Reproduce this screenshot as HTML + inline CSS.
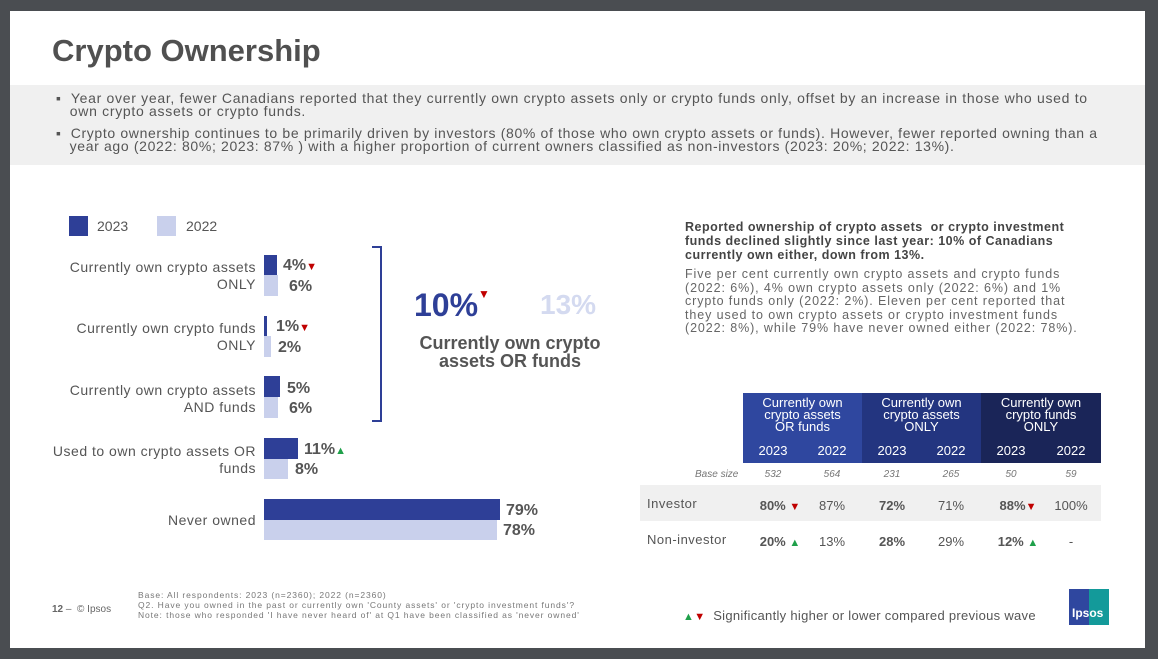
<!DOCTYPE html>
<html><head><meta charset="utf-8"><style>
*{margin:0;padding:0;box-sizing:border-box}
body{width:1158px;height:659px;background:#4a4d51;position:relative;overflow:hidden;font-family:"Liberation Sans",sans-serif;color:#555}
.slide{position:absolute;left:10px;top:11px;width:1135px;height:637px;background:#fff}
.a{position:absolute;white-space:nowrap}
.d{background:#2e3f97;position:absolute}
.l{background:#c9d0ec;position:absolute}
.lab{position:absolute;text-align:right;font-size:14px;color:#555;line-height:17px;letter-spacing:0.5px}
.v{position:absolute;font-size:16px;font-weight:bold;color:#555}
.dn{color:#c00000;font-size:11px}
.up{color:#1fa04a;font-size:11px}
.th{position:absolute;color:#fff;font-size:13px;text-align:center;line-height:12px}
.td{position:absolute;font-size:13px;color:#555;text-align:center;width:60px}
</style></head><body>
<div class="slide"></div>
<div class="a" style="left:52px;top:33px;font-size:31px;font-weight:bold;color:#505050">Crypto Ownership</div>
<div style="position:absolute;left:10px;top:85px;width:1135px;height:80px;background:#f0f0f0"></div>
<div class="a" style="left:56px;top:92px;font-size:14px;line-height:13px;color:#555;letter-spacing:0.7px">▪&nbsp;&nbsp;Year over year, fewer Canadians reported that they currently own crypto assets only or crypto funds only, offset by an increase in those who used to<br>&nbsp;&nbsp;&nbsp;own crypto assets or crypto funds.</div>
<div class="a" style="left:56px;top:127px;font-size:14px;line-height:13px;color:#555;letter-spacing:0.65px">▪&nbsp;&nbsp;Crypto ownership continues to be primarily driven by investors (80% of those who own crypto assets or funds). However, fewer reported owning than a<br>&nbsp;&nbsp;&nbsp;year ago (2022: 80%; 2023: 87% ) with a higher proportion of current owners classified as non-investors (2023: 20%; 2022: 13%).</div>

<div class="d" style="left:69px;top:216px;width:19px;height:20px"></div>
<div class="a" style="left:97px;top:218px;font-size:14px">2023</div>
<div class="l" style="left:157px;top:216px;width:19px;height:20px"></div>
<div class="a" style="left:186px;top:218px;font-size:14px">2022</div>

<div class="lab" style="top:259px;left:0;width:256px">Currently own crypto assets<br>ONLY</div>
<div class="lab" style="top:320px;left:0;width:256px">Currently own crypto funds<br>ONLY</div>
<div class="lab" style="top:382px;left:0;width:256px">Currently own crypto assets<br>AND funds</div>
<div class="lab" style="top:443px;left:0;width:256px">Used to own crypto assets OR<br>funds</div>
<div class="lab" style="top:512px;left:0;width:256px">Never owned</div>

<div class="d" style="left:264px;top:255px;width:13px;height:20px"></div>
<div class="l" style="left:264px;top:275px;width:14px;height:21px"></div>
<div class="v" style="left:283px;top:257px">4%<span class="dn">▼</span></div>
<div class="v" style="left:289px;top:278px">6%</div>

<div class="d" style="left:264px;top:316px;width:3px;height:20px"></div>
<div class="l" style="left:264px;top:336px;width:7px;height:21px"></div>
<div class="v" style="left:276px;top:318px">1%<span class="dn">▼</span></div>
<div class="v" style="left:278px;top:339px">2%</div>

<div class="d" style="left:264px;top:376px;width:16px;height:21px"></div>
<div class="l" style="left:264px;top:397px;width:14px;height:21px"></div>
<div class="v" style="left:287px;top:380px">5%</div>
<div class="v" style="left:289px;top:400px">6%</div>

<div class="d" style="left:264px;top:438px;width:34px;height:21px"></div>
<div class="l" style="left:264px;top:459px;width:24px;height:20px"></div>
<div class="v" style="left:304px;top:441px">11%<span class="up">▲</span></div>
<div class="v" style="left:295px;top:461px">8%</div>

<div class="d" style="left:264px;top:499px;width:236px;height:21px"></div>
<div class="l" style="left:264px;top:520px;width:233px;height:20px"></div>
<div class="v" style="left:506px;top:502px">79%</div>
<div class="v" style="left:503px;top:522px">78%</div>

<div style="position:absolute;left:372px;top:246px;width:10px;height:176px;border:2.5px solid #2e3f97;border-left:none"></div>
<div class="a" style="left:414px;top:287px;font-size:32px;font-weight:bold;color:#2e3f97">10%<span style="color:#c00000;font-size:12px;vertical-align:top">▼</span></div>
<div class="a" style="left:540px;top:289px;font-size:28px;font-weight:bold;color:#d4daf0">13%</div>
<div class="a" style="left:400px;top:334px;width:220px;text-align:center;font-size:18px;font-weight:bold;line-height:18px;color:#555">Currently own crypto<br>assets OR funds</div>

<div class="a" style="left:685px;top:220px;font-size:12.5px;font-weight:bold;line-height:14px;color:#444;letter-spacing:0.5px">Reported ownership of crypto assets&nbsp; or crypto investment<br>funds declined slightly since last year: 10% of Canadians<br>currently own either, down from 13%.</div>
<div class="a" style="left:685px;top:268px;font-size:12.5px;line-height:13.5px;color:#666;letter-spacing:0.9px">Five per cent currently own crypto assets and crypto funds<br>(2022: 6%), 4% own crypto assets only (2022: 6%) and 1%<br>crypto funds only (2022: 2%). Eleven per cent reported that<br>they used to own crypto assets or crypto investment funds<br>(2022: 8%), while 79% have never owned either (2022: 78%).</div>

<div style="position:absolute;left:743px;top:393px;width:119px;height:70px;background:#2f479f"></div>
<div style="position:absolute;left:862px;top:393px;width:119px;height:70px;background:#233580"></div>
<div style="position:absolute;left:981px;top:393px;width:120px;height:70px;background:#1a2558"></div>
<div class="th" style="left:743px;top:397px;width:119px">Currently own<br>crypto assets<br>OR funds</div>
<div class="th" style="left:862px;top:397px;width:119px">Currently own<br>crypto assets<br>ONLY</div>
<div class="th" style="left:981px;top:397px;width:120px">Currently own<br>crypto funds<br>ONLY</div>
<div class="th" style="left:743px;top:445px;width:60px">2023</div>
<div class="th" style="left:802px;top:445px;width:60px">2022</div>
<div class="th" style="left:862px;top:445px;width:60px">2023</div>
<div class="th" style="left:921px;top:445px;width:60px">2022</div>
<div class="th" style="left:981px;top:445px;width:60px">2023</div>
<div class="th" style="left:1041px;top:445px;width:60px">2022</div>

<div class="a" style="left:695px;top:469px;font-size:10px;font-style:italic;color:#777">Base size</div>
<div class="td" style="left:743px;top:469px;font-size:10px;font-style:italic;color:#777">532</div>
<div class="td" style="left:802px;top:469px;font-size:10px;font-style:italic;color:#777">564</div>
<div class="td" style="left:862px;top:469px;font-size:10px;font-style:italic;color:#777">231</div>
<div class="td" style="left:921px;top:469px;font-size:10px;font-style:italic;color:#777">265</div>
<div class="td" style="left:981px;top:469px;font-size:10px;font-style:italic;color:#777">50</div>
<div class="td" style="left:1041px;top:469px;font-size:10px;font-style:italic;color:#777">59</div>

<div style="position:absolute;left:640px;top:485px;width:461px;height:36px;background:#f0f0f0"></div>
<div class="a" style="left:647px;top:496px;font-size:13px;color:#555;letter-spacing:0.5px">Investor</div>
<div class="td" style="left:750px;top:498px"><b>80%</b> <span class="dn">▼</span></div>
<div class="td" style="left:802px;top:498px">87%</div>
<div class="td" style="left:862px;top:498px"><b>72%</b></div>
<div class="td" style="left:921px;top:498px">71%</div>
<div class="td" style="left:988px;top:498px"><b>88%</b><span class="dn">▼</span></div>
<div class="td" style="left:1041px;top:498px">100%</div>

<div class="a" style="left:647px;top:532px;font-size:13px;color:#555;letter-spacing:0.5px">Non-investor</div>
<div class="td" style="left:750px;top:534px"><b>20%</b> <span class="up">▲</span></div>
<div class="td" style="left:802px;top:534px">13%</div>
<div class="td" style="left:862px;top:534px"><b>28%</b></div>
<div class="td" style="left:921px;top:534px">29%</div>
<div class="td" style="left:988px;top:534px"><b>12%</b> <span class="up">▲</span></div>
<div class="td" style="left:1041px;top:534px">-</div>

<div class="a" style="left:683px;top:608px;font-size:13px;color:#555;letter-spacing:0.3px"><span style="color:#1fa04a;font-size:11px">▲</span><span style="color:#c00000;font-size:11px">▼</span>&nbsp; Significantly higher or lower compared previous wave</div>
<div style="position:absolute;left:1069px;top:589px;width:40px;height:36px;background:linear-gradient(90deg,#2f479f 50%,#139a9a 50%)"></div>
<div class="a" style="left:1072px;top:606px;font-size:12px;font-weight:bold;color:#fff">Ipsos</div>

<div class="a" style="left:52px;top:604px;font-size:10px;color:#666"><b>12</b> –&nbsp; © Ipsos</div>
<div class="a" style="left:138px;top:590px;font-size:8.5px;line-height:10px;color:#777;letter-spacing:0.9px">Base: All respondents: 2023 (n=2360); 2022 (n=2360)<br>Q2. Have you owned in the past or currently own 'County assets' or 'crypto investment funds'?<br>Note: those who responded 'I have never heard of' at Q1 have been classified as 'never owned'</div>
</body></html>
